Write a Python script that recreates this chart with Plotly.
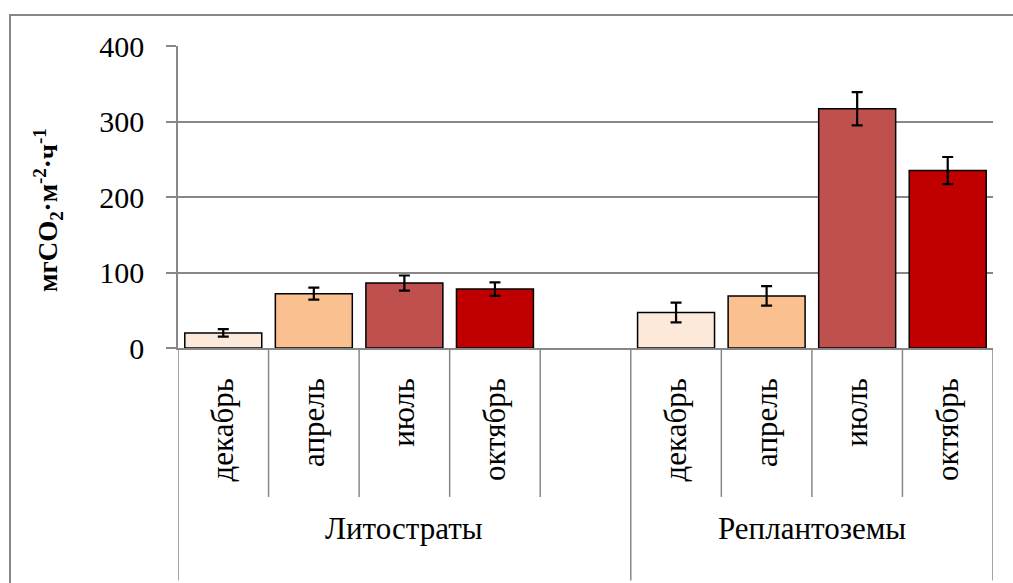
import plotly.graph_objects as go

# Soil CO2 efflux by month for two technosol types
groups = ["Литостраты", "Реплантоземы"]
months = ["декабрь", "апрель", "июль", "октябрь"]
month_colors = ["#FDE9D9", "#FAC090", "#C0504D", "#C00000"]

lito_values = [20, 72, 86, 78]
lito_errors = [5, 8, 10, 9]
repl_values = [47, 69, 317, 235]
repl_errors = [13, 13, 22, 18]

# Category slots: four months, one empty spacer, four months
slot_labels = months + [""] + months
lito_slots = list(range(len(months)))
repl_slots = [len(months) + 1 + i for i in range(len(months))]

GRID = "#878787"
FONT = "Liberation Serif"

fig = go.Figure()
fig.add_trace(go.Bar(
    x=lito_slots + repl_slots,
    y=lito_values + repl_values,
    marker=dict(color=month_colors + month_colors,
                line=dict(color="black", width=1.5)),
    width=0.85,
    error_y=dict(type="data", array=lito_errors + repl_errors,
                 color="black", thickness=2.2, width=5.5),
    hoverinfo="x+y",
    showlegend=False,
))

n_slots = len(slot_labels)
fig.update_layout(
    width=1013, height=583,
    margin=dict(l=178, r=20, t=46, b=235),
    paper_bgcolor="white", plot_bgcolor="white",
    font=dict(family=FONT, color="black"),
    bargap=0.15,
    xaxis=dict(
        range=[-0.5, n_slots - 0.5],
        tickvals=[i for i, t in enumerate(slot_labels) if t],
        ticktext=[t for t in slot_labels if t],
        tickangle=-90, ticks="", ticklabelstandoff=16,
        tickfont=dict(size=31, family=FONT),
        showgrid=False, showline=True, linecolor=GRID, linewidth=1.5,
        zeroline=False, fixedrange=True,
    ),
    yaxis=dict(
        range=[0, 400], tickvals=[0, 100, 200, 300, 400],
        ticks="outside", ticklen=10, tickcolor=GRID, tickwidth=1.5,
        ticklabelstandoff=16,
        tickfont=dict(size=30, family=FONT),
        showgrid=True, gridcolor=GRID, gridwidth=1.5,
        showline=True, linecolor=GRID, linewidth=1.5,
        zeroline=False, fixedrange=True,
    ),
)

# Separators between category slots; group boundaries run to the bottom
shapes = []
for k in range(n_slots + 1):
    xb = k - 0.5
    is_group_edge = k in (0, len(months) + 1, n_slots)
    shapes.append(dict(
        type="line", xref="x", yref="paper", x0=xb, x1=xb,
        y0=0, y1=-0.77 if is_group_edge else -0.493,
        line=dict(color=GRID, width=1.5),
    ))

# Outer chart frame
shapes.append(dict(
    type="rect", xref="paper", yref="paper",
    x0=(10 - 178) / 815, x1=1.2, y0=-1.0, y1=(348 - 15) / 302,
    line=dict(color=GRID, width=2), fillcolor="rgba(0,0,0,0)", layer="below",
))
fig.update_layout(shapes=shapes)

# Group labels under the month labels
group_centers = [(lito_slots[0] - 0.5 + len(months) + 0.5) / 2,
                 (repl_slots[0] - 0.5 + repl_slots[-1] + 0.5) / 2]
for name, xc in zip(groups, group_centers):
    fig.add_annotation(x=xc, xref="x", y=-0.662, yref="paper",
                       text=name, showarrow=False,
                       font=dict(size=31, family=FONT))

# Y axis title
fig.add_annotation(
    x=(27 - 178) / 815, xref="paper", y=0.457, yref="paper",
    text="<b>мгCO<sub>2</sub>·м<sup>-2</sup>·ч<sup>-1</sup></b>",
    textangle=-90, showarrow=False, font=dict(size=27, family=FONT),
)

fig.write_html("out.html")
